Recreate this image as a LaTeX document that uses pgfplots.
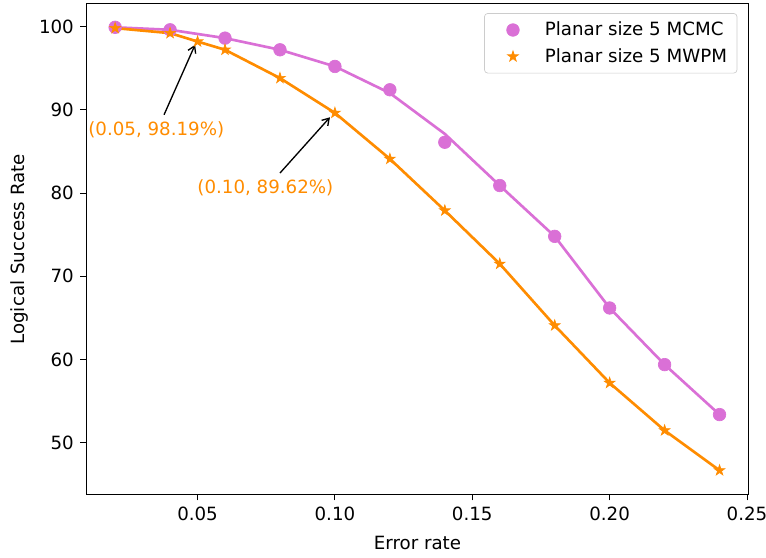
\documentclass[border=0pt]{standalone}
\usepackage{fontspec}
\setmainfont{DejaVu Sans}
\usepackage{pgfplots}
\pgfplotsset{compat=1.18}
\usetikzlibrary{arrows.meta}
\definecolor{orchid}{HTML}{DA70D6}
\definecolor{dorange}{HTML}{FF8C00}

% filled five-pointed star, like matplotlib's '*'
\pgfdeclareplotmark{fstar}{%
  \pgfpathmoveto{\pgfqpointpolar{90}{\pgfplotmarksize}}%
  \pgfpathlineto{\pgfqpointpolar{126}{0.382\pgfplotmarksize}}%
  \pgfpathlineto{\pgfqpointpolar{162}{\pgfplotmarksize}}%
  \pgfpathlineto{\pgfqpointpolar{198}{0.382\pgfplotmarksize}}%
  \pgfpathlineto{\pgfqpointpolar{234}{\pgfplotmarksize}}%
  \pgfpathlineto{\pgfqpointpolar{270}{0.382\pgfplotmarksize}}%
  \pgfpathlineto{\pgfqpointpolar{306}{\pgfplotmarksize}}%
  \pgfpathlineto{\pgfqpointpolar{342}{0.382\pgfplotmarksize}}%
  \pgfpathlineto{\pgfqpointpolar{18}{\pgfplotmarksize}}%
  \pgfpathlineto{\pgfqpointpolar{54}{0.382\pgfplotmarksize}}%
  \pgfpathclose
  \pgfusepathqfillstroke
}

\pgfplotstableread{
p     mcmc  mcmcfit
0.02  99.9  99.9
0.04  99.6  99.6
0.06  98.6  98.6
0.08  97.2  97.2
0.10  95.2  95.2
0.12  92.4  92.0
0.14  86.1  87.1
0.16  80.9  80.9
0.18  74.8  74.8
0.20  66.2  66.2
0.22  59.4  59.4
0.24  53.4  53.4
}\mcmc

\pgfplotstableread{
p     mwpm
0.02  99.8
0.04  99.2
0.05  98.19
0.06  97.2
0.08  93.8
0.10  89.62
0.12  84.1
0.14  77.9
0.16  71.5
0.18  64.1
0.20  57.2
0.22  51.5
0.24  46.7
}\mwpm

\newcommand\ff{\fontsize{11}{13}\selectfont}

\begin{document}
\ff
\begin{tikzpicture}
\begin{axis}[
  scale only axis, width=400pt, height=296pt,
  xmin=0.0094, xmax=0.2507, ymin=43.8, ymax=102.7,
  xtick={0.05,0.10,0.15,0.20,0.25},
  ytick={50,60,70,80,90,100},
  xticklabel style={/pgf/number format/.cd, fixed, fixed zerofill, precision=2},
  /pgf/number format/assume math mode=true,
  tick label style={font=\ff},
  label style={font=\ff},
  tick align=outside, major tick length=3.5pt,
  xtick pos=bottom, ytick pos=left,
  tick style={black, line width=0.6pt},
  axis line style={line width=0.6pt},
  xlabel={Error rate}, ylabel={Logical Success Rate},
  ylabel style={yshift=-1pt},
  xlabel style={yshift=-2pt},
  legend style={at={(1,1)}, anchor=north east, xshift=-7pt, yshift=-5.5pt,
    draw=black!20, rounded corners=2pt, fill=white,
    font=\ff, inner xsep=4pt, inner ysep=3pt,
    row sep=2pt, column sep=4pt},
  legend image code/.code={%
    \path (0pt,0pt) (26pt,0pt);
    \draw[mark repeat=2, mark phase=2, #1] plot coordinates {(0pt,0pt) (13pt,0pt) (26pt,0pt)};},
  legend cell align=left,
  clip=false,
]
\addplot[orchid, line width=1.6pt, forget plot] table[x=p, y=mcmcfit] {\mcmc};
\addplot[dorange, line width=1.6pt, forget plot] table[x=p, y=mwpm] {\mwpm};
\addplot[only marks, mark=*, mark size=3.8pt, draw=orchid, fill=orchid] table[x=p, y=mcmc] {\mcmc};
\addlegendentry{Planar size 5 MCMC}
\addplot[only marks, mark=fstar, mark size=3.4pt, draw=dorange, fill=dorange] table[x=p, y=mwpm] {\mwpm};
\addlegendentry{Planar size 5 MWPM}

\draw[-{Straight Barb[length=4pt,width=5pt]}, line width=0.8pt] (axis cs:0.0378,89.4) -- (axis cs:0.0491,97.8);
\node[text=dorange, font=\ff] at (axis cs:0.0350,87.6) {(0.05, 98.19\%)};
\draw[-{Straight Barb[length=4pt,width=5pt]}, line width=0.8pt] (axis cs:0.0800,82.4) -- (axis cs:0.0982,89.1);
\node[text=dorange, font=\ff] at (axis cs:0.0747,80.6) {(0.10, 89.62\%)};
\end{axis}
\pgfresetboundingbox
\path (current axis.south west) ++(-51.9pt,-37.7pt) (current axis.north east) ++(10.3pt,2.4pt);
\end{tikzpicture}
\end{document}
